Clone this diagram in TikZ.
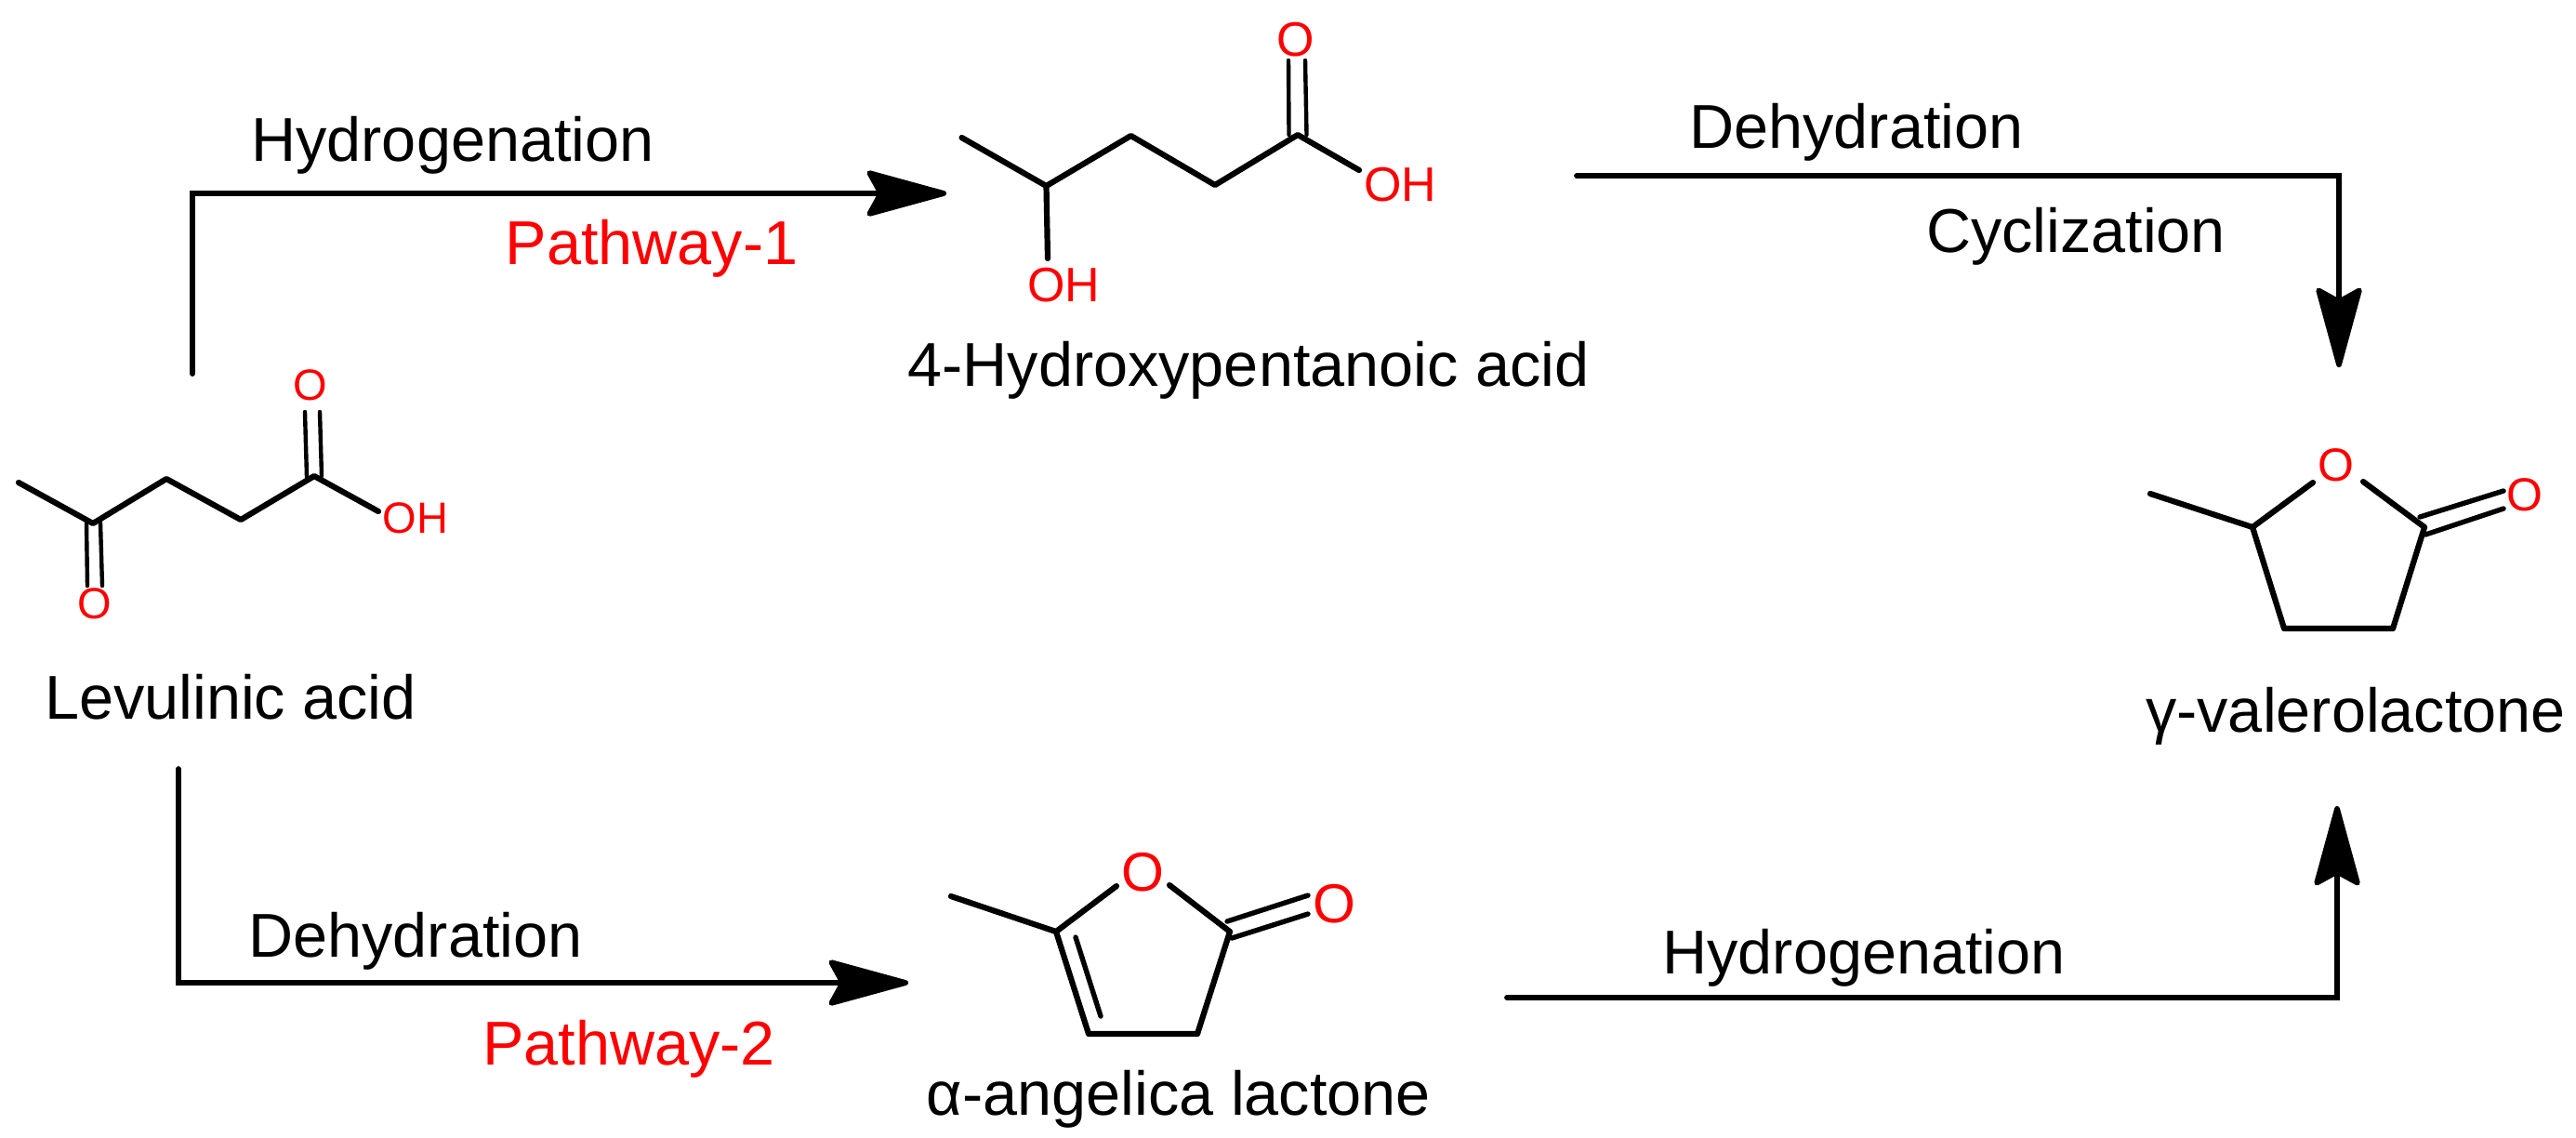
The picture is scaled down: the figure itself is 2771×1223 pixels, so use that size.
\documentclass[tikz,border=0pt]{standalone}
\usepackage{fontspec}
\setmainfont{Liberation Sans}
\usetikzlibrary{arrows.meta}
\tikzset{
  rxn/.style={line width=2.9pt,line cap=round,line join=miter,-{Stealth[length=48pt,width=26pt,inset=7pt,round]}},
  bond/.style={line width=3.1pt,line cap=round,line join=round},
  dbond/.style={line width=2.2pt,line cap=round},
  dbondb/.style={line width=2.7pt,line cap=round},
  lab/.style={anchor=base,inner sep=0pt,font=\fontsize{33.3}{34}\selectfont},
  rlab/.style={lab,text=red},
  atomA/.style={inner sep=0pt,text=red,font=\fontsize{23.5}{24}\selectfont},
  atomB/.style={inner sep=0pt,text=red,font=\fontsize{26}{26}\selectfont},
  atomC/.style={inner sep=0pt,text=red,font=\fontsize{25}{25}\selectfont},
  atomD/.style={inner sep=0pt,text=red,font=\fontsize{29.5}{30}\selectfont}
}
\begin{document}
\begin{tikzpicture}[x=.5pt,y=-.5pt]
\useasboundingbox (0,0) rectangle (2771,1223);
% Levulinic acid
\coordinate (a1) at (20,519);
\coordinate (a2) at (100,563);
\coordinate (a3) at (179,515);
\coordinate (a4) at (259,559);
\coordinate (a5) at (338,512);
\coordinate (a6) at (407,550);
\draw[bond] (a1)--(a2)--(a3)--(a4)--(a5)--(a6);
\coordinate (a7) at (328,443); \coordinate (a8) at (330,513);
\coordinate (a9) at (344,443); \coordinate (a10) at (346,512);
\draw[dbond] (a7)--(a8); \draw[dbond] (a9)--(a10);
\coordinate (a11) at (93,562); \coordinate (a12) at (94,630);
\coordinate (a13) at (108,562); \coordinate (a14) at (110,630);
\draw[dbond] (a11)--(a12); \draw[dbond] (a13)--(a14);
\node[atomA] (aO1) at (334,414) {O};
\node[atomA] (aO2) at (102,649) {O};
\node[atomA] (aOH) at (447,557) {OH};
\node[lab] (aname) at (248,773) {Levulinic acid};
% 4-Hydroxypentanoic acid
\coordinate (b1) at (1034.5,148);
\coordinate (b2) at (1125.5,200);
\coordinate (b3) at (1216.5,146);
\coordinate (b4) at (1307,199);
\coordinate (b5) at (1396,145);
\coordinate (b6) at (1462,183);
\coordinate (b7) at (1127,278);
\draw[bond] (b1)--(b2)--(b3)--(b4)--(b5)--(b6);
\draw[bond] (b2)--(b7);
\coordinate (b8) at (1386,65); \coordinate (b9) at (1386.5,145);
\coordinate (b10) at (1404,65); \coordinate (b11) at (1405.5,145);
\draw[dbond] (b8)--(b9); \draw[dbond] (b10)--(b11);
\node[atomB] (bO) at (1393.5,43) {O};
\node[atomB] (bOH1) at (1506,199) {OH};
\node[atomB] (bOH2) at (1144.5,307) {OH};
\node[lab] (bname) at (1343,415) {4-Hydroxypentanoic acid};
% gamma-valerolactone
\coordinate (c1) at (2313,531);
\coordinate (c2) at (2423,567);
\coordinate (c3) at (2488,519);
\coordinate (c4) at (2542,518);
\coordinate (c5) at (2608,567);
\coordinate (c6) at (2574,676);
\coordinate (c7) at (2457,676);
\draw[bond] (c1)--(c2)--(c3);
\draw[bond] (c4)--(c5)--(c6)--(c7)--(c2);
\coordinate (c8) at (2603,556); \coordinate (c9) at (2693,528);
\coordinate (c10) at (2609,575); \coordinate (c11) at (2693,547);
\draw[dbondb] (c8)--(c9); \draw[dbondb] (c10)--(c11);
\node[atomC] (cO1) at (2513,500) {O};
\node[atomC] (cO2) at (2716,532) {O};
\node[lab] (cname) at (2534,787) {γ-valerolactone};
% alpha-angelica lactone
\coordinate (d1) at (1023,964);
\coordinate (d2) at (1136,1002);
\coordinate (d3) at (1201,953);
\coordinate (d4) at (1258,952);
\coordinate (d5) at (1323,1002);
\coordinate (d6) at (1288,1112);
\coordinate (d7) at (1171,1112);
\draw[bond] (d1)--(d2)--(d3);
\draw[bond] (d4)--(d5)--(d6)--(d7)--(d2);
\coordinate (d8) at (1157,1008); \coordinate (d9) at (1184,1093);
\draw[dbondb] (d8)--(d9);
\coordinate (d10) at (1320,991); \coordinate (d11) at (1407,963);
\coordinate (d12) at (1325,1009); \coordinate (d13) at (1407,983);
\draw[dbondb] (d10)--(d11); \draw[dbondb] (d12)--(d13);
\node[atomD] (dO1) at (1229,938) {O};
\node[atomD] (dO2) at (1435,972) {O};
\node[lab] (dname) at (1268,1199) {α-angelica lactone};
% reaction arrows
\coordinate (r1) at (207,402); \coordinate (r2) at (207,208); \coordinate (r3) at (1018,208);
\draw[rxn] (r1)--(r2)--(r3);
\coordinate (s1) at (1696,189); \coordinate (s2) at (2516,189); \coordinate (s3) at (2516,395);
\draw[rxn] (s1)--(s2)--(s3);
\coordinate (t1) at (192,827); \coordinate (t2) at (192,1057); \coordinate (t3) at (977,1057);
\draw[rxn] (t1)--(t2)--(t3);
\coordinate (u1) at (1621,1073); \coordinate (u2) at (2514,1073); \coordinate (u3) at (2514,867);
\draw[rxn] (u1)--(u2)--(u3);
% labels
\node[lab] (l1) at (487,173) {Hydrogenation};
\node[rlab] (l2) at (701,284) {Pathway-1};
\node[lab] (l3) at (1997,159) {Dehydration};
\node[lab] (l4) at (2233,271) {Cyclization};
\node[lab] (l5) at (447,1029) {Dehydration};
\node[rlab] (l6) at (676.5,1145) {Pathway-2};
\node[lab] (l7) at (2005,1047) {Hydrogenation};
\end{tikzpicture}
\end{document}
